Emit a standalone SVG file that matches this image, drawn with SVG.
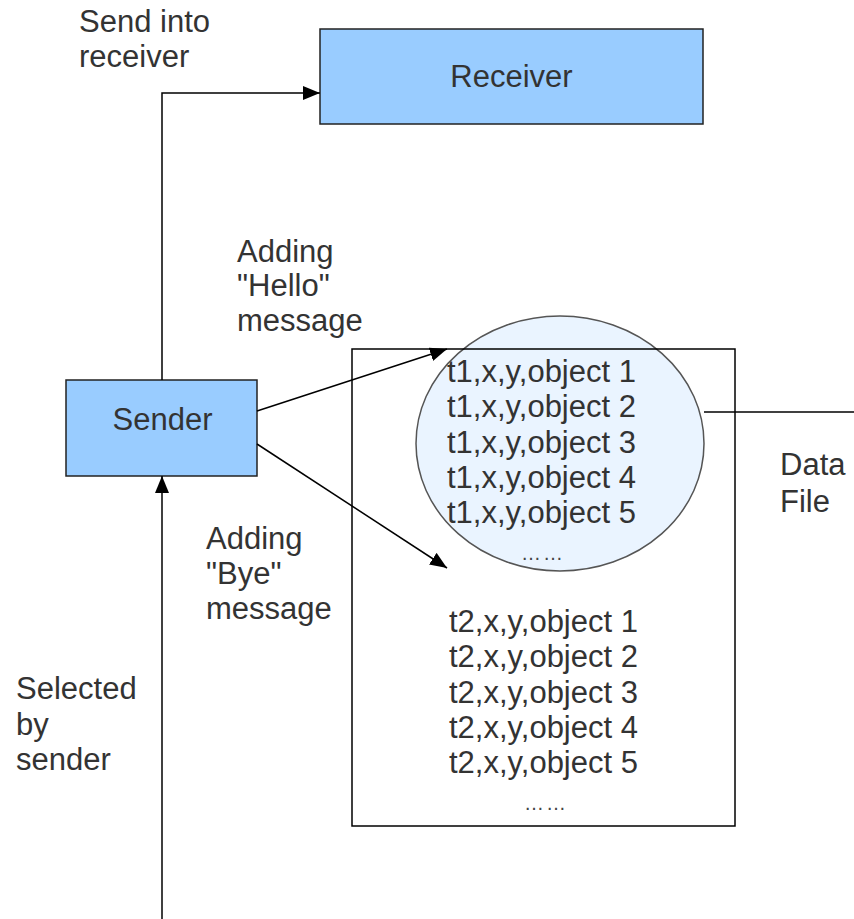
<svg xmlns="http://www.w3.org/2000/svg" width="854" height="919" viewBox="0 0 854 919">
  <defs>
    <marker id="arrow" markerUnits="userSpaceOnUse" markerWidth="18" markerHeight="14" refX="17" refY="7" orient="auto">
      <path d="M0,0 L17,7 L0,14 Z" fill="#000"/>
    </marker>
    <style>
      text { font-family: "Liberation Sans", Arial, sans-serif; font-size: 31px; fill: #333; }
      .box { fill: #99ccff; stroke: #222; stroke-width: 1.5; }
      .edge { fill: none; stroke: #000; stroke-width: 1.5; }
      .mid { text-anchor: middle; }
      .dots { font-size: 20px; letter-spacing: 2px; fill: #444; }
    </style>
  </defs>

  <rect width="854" height="919" fill="#fff"/>

  <!-- data file: record list with highlighted block -->
  <g id="datafile">
    <ellipse cx="560" cy="443.5" rx="144" ry="127.5" fill="#eaf4ff" stroke="#555" stroke-width="1.5"/>
    <rect x="352" y="349" width="383" height="477" fill="none" stroke="#000" stroke-width="1.5"/>
    <text x="447" y="382">t1,x,y,object 1</text>
    <text x="447" y="417">t1,x,y,object 2</text>
    <text x="447" y="453">t1,x,y,object 3</text>
    <text x="447" y="488">t1,x,y,object 4</text>
    <text x="447" y="523">t1,x,y,object 5</text>
    <text x="543" y="560" class="mid dots">……</text>
    <text x="449" y="632">t2,x,y,object 1</text>
    <text x="449" y="667">t2,x,y,object 2</text>
    <text x="449" y="703">t2,x,y,object 3</text>
    <text x="449" y="738">t2,x,y,object 4</text>
    <text x="449" y="773">t2,x,y,object 5</text>
    <text x="546" y="810" class="mid dots">……</text>
  </g>

  <g id="receiver">
    <rect class="box" x="320" y="29" width="383" height="95"/>
    <text x="511.5" y="87" class="mid">Receiver</text>
  </g>

  <g id="sender">
    <rect class="box" x="66" y="380" width="191" height="96"/>
    <text x="162.5" y="430" class="mid">Sender</text>
  </g>

  <g id="connectors">
    <polyline class="edge" points="162,380 162,93 320,93" marker-end="url(#arrow)"/>
    <line class="edge" x1="257" y1="411" x2="447" y2="349" marker-end="url(#arrow)"/>
    <line class="edge" x1="257" y1="444" x2="447" y2="568" marker-end="url(#arrow)"/>
    <line class="edge" x1="162" y1="919" x2="162" y2="476" marker-end="url(#arrow)"/>
    <line class="edge" x1="704" y1="412" x2="854" y2="412"/>
  </g>

  <g id="labels">
    <text x="79" y="32">Send into</text>
    <text x="79" y="67">receiver</text>
    <text x="237" y="262">Adding</text>
    <text x="237" y="296">"Hello"</text>
    <text x="237" y="331">message</text>
    <text x="206" y="549">Adding</text>
    <text x="206" y="584">"Bye"</text>
    <text x="206" y="619">message</text>
    <text x="780" y="475">Data</text>
    <text x="780" y="512">File</text>
    <text x="16" y="699">Selected</text>
    <text x="16" y="735">by</text>
    <text x="16" y="770">sender</text>
  </g>
</svg>
